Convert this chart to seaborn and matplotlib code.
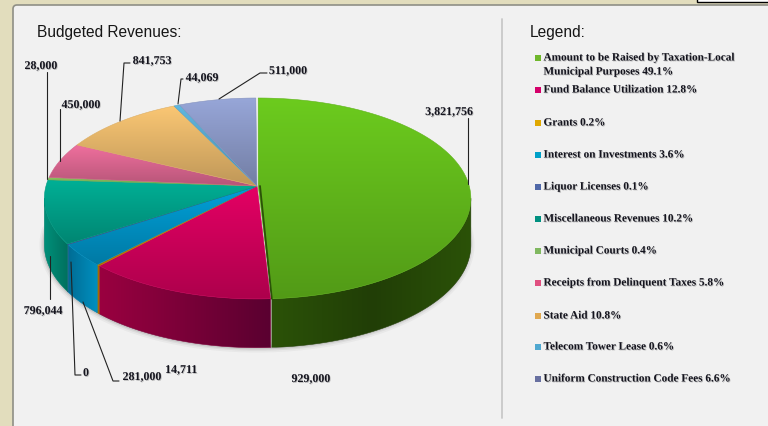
import numpy as np
import pandas as pd
import matplotlib
matplotlib.use("Agg")
import matplotlib.pyplot as plt
import matplotlib.patheffects as pe
from matplotlib.patches import FancyBboxPatch, Polygon, Rectangle
import seaborn as sns

# values
categories = [
    "Amount to be Raised by Taxation-Local\nMunicipal Purposes 49.1%",
    "Fund Balance Utilization 12.8%",
    "Grants 0.2%",
    "Interest on Investments 3.6%",
    "Liquor Licenses 0.1%",
    "Miscellaneous Revenues 10.2%",
    "Municipal Courts 0.4%",
    "Receipts from Delinquent Taxes 5.8%",
    "State Aid 10.8%",
    "Telecom Tower Lease 0.6%",
    "Uniform Construction Code Fees 6.6%",
]
shares = [49.1, 12.8, 0.2, 3.6, 0.1, 10.2, 0.4, 5.8, 10.6, 0.5, 6.6]
amounts = ["3,821,756", "929,000", "14,711", "281,000", "0", "796,044",
           "28,000", "450,000", "841,753", "44,069", "511,000"]
top_colors = ["#6ccb1e", "#e40064", "#d89000", "#00a0d8", "#4060a0", "#00b096",
              "#8cc860", "#f0709e", "#fbc774", "#60b8e0", "#97a6d8"]
wall_colors = [("#2b5208", "#213e06"), ("#9a0040", "#5a0030"), ("#b87800", "#a06800"),
               ("#006c94", "#0090c0"), ("#304880", "#304880"), ("#00907a", "#00705e")]
swatch_colors = ["#6fb72b", "#d4006a", "#e0a800", "#00a0c8", "#5068a8", "#009080",
                 "#80b860", "#e05080", "#e0a850", "#50a8d0", "#6870a0"]

# layout, in pixels of the 768x427 picture
legend_rows = [59, 91, 124, 156, 188, 220, 252, 284, 317, 348, 380]
label_pos = [(449, 113), (311, 380), (181, 371), (142, 378), (86, 374), (43, 312),
             (41, 67), (81, 106), (152, 62), (202, 79), (288, 72)]
leaders = [
    [(468, 185), (468, 119)], None, None,
    [(83, 303), (113, 382), (119, 382)],
    [(71, 263), (75, 376), (81, 376)],
    [(50, 257), (50, 300)],
    [(47, 180), (47, 73)],
    [(60, 162), (60, 110)],
    [(120, 122), (124, 64), (130, 64)],
    [(178, 105), (181, 80), (183, 80)],
    [(219, 100), (260, 74), (267, 74)],
]
CX, CY, RX, RY, PERSP = 257.0, 187.0, 211.0, 98.9, 0.124
NUDGE = 1.2

sns.set_style("white")
plt.rcParams["font.family"] = ["Liberation Serif", "DejaVu Serif"]


def project(theta, drop=0.0, dx=0.0):
    """clockwise degrees from 12 o'clock -> pixel position on the tilted disc"""
    t = np.radians(theta)
    u, v = np.sin(t), np.cos(t)
    w = 1 + PERSP * v
    return CX + dx + RX * u / w, CY - RY * v / w + drop * (1 - 0.06 * v)


def gradient_fill(ax, pts, cmap, horizontal=False, z=3):
    pts = np.asarray(pts)
    x0, x1 = pts[:, 0].min(), pts[:, 0].max()
    y0, y1 = pts[:, 1].min(), pts[:, 1].max()
    ramp = np.linspace(0, 1, 128)
    ramp = ramp[None, :] if horizontal else ramp[:, None]
    im = ax.imshow(ramp, cmap=cmap, extent=(x0, x1, y1, y0), origin="upper",
                   aspect="auto", zorder=z, vmin=0, vmax=1)
    patch = Polygon(pts, closed=True, transform=ax.transData)
    im.set_clip_path(patch)
    ax.add_patch(Polygon(pts, closed=True, fc="none", ec=cmap(0.5), lw=0.4, zorder=z))


def soft_text(ax, x, y, s, **kw):
    t = ax.text(x, y, s, color="#14141e", fontweight="bold", **kw)
    t.set_path_effects([pe.withSimplePatchShadow(offset=(0.6, -0.6), shadow_rgbFace="#555555", alpha=0.35)])
    return t


fig = plt.figure(figsize=(7.68, 4.27), dpi=100)
fig.patch.set_facecolor("#e2ddbd")
ax = fig.add_axes([0, 0, 1, 1])
ax.set_facecolor("none")

# page panel behind the chart
ax.add_patch(FancyBboxPatch((13, 6), 800, 480, boxstyle="round,pad=0,rounding_size=4",
                            fc="#f1f1f1", ec="#8f8f86", lw=1.2, zorder=0))
ax.add_patch(Rectangle((697, -5), 90, 8, fc="white", ec="black", lw=1, zorder=1))
ax.plot([502, 502], [20, 419], color="#c9c9c9", lw=1.3, zorder=1)

edges = np.concatenate([[0], np.cumsum(shares)]) * 3.6
WALL_FROM, WALL_TO = 97, 263

# soft shadow under the disc
arc = np.linspace(WALL_FROM - 8, WALL_TO + 8, 200)
sx, sy = project(arc, drop=46)
for lw, a in [(7, 0.05), (4.5, 0.08), (2.5, 0.12)]:
    ax.plot(sx, sy, color="#444444", lw=lw, alpha=a, zorder=1.5, solid_capstyle="round")

# side walls
for i, pair in enumerate(wall_colors):
    a0, a1 = max(edges[i], WALL_FROM), min(edges[i + 1], WALL_TO)
    if a1 <= a0:
        continue
    th = np.linspace(a0, a1, 120)
    dx = NUDGE if i == 0 else 0
    x0, y0 = project(th, dx=dx)
    x1, y1 = project(th, drop=46, dx=dx)
    pts = np.vstack([np.c_[x0, y0], np.c_[x1, y1][::-1]])
    if i == 0:
        cmap = sns.blend_palette([pair[0], pair[1], pair[0]], as_cmap=True)
    else:
        cmap = sns.blend_palette(list(pair), as_cmap=True)
    gradient_fill(ax, pts, cmap, horizontal=True, z=2)

# top faces, green slice pulled slightly away
for i, col in enumerate(top_colors):
    th = np.linspace(edges[i], edges[i + 1], max(int(shares[i] * 8), 6))
    dx = NUDGE if i == 0 else 0
    x, y = project(th, dx=dx)
    pts = np.vstack([[CX + dx, CY], np.c_[x, y]])
    dark = tuple(c * 0.76 for c in matplotlib.colors.to_rgb(col))
    cmap = sns.blend_palette([col, dark], as_cmap=True)
    gradient_fill(ax, pts, cmap, z=3 + i * 0.01)

# dark cut face along the end of the green slice
ex, ey = project(edges[1], dx=NUDGE)
ax.plot([CX + 3, ex], [CY, ey], color="#2b5208", lw=1.3, zorder=3.5)

# leader lines
for line in leaders:
    if line is not None:
        ax.plot(*zip(*line), color="#222222", lw=0.8, zorder=4)

# amounts
for (x, y), s in zip(label_pos, amounts):
    soft_text(ax, x, y, s, fontsize=8.6, ha="center", va="center", zorder=5)

# titles
ax.text(37, 32, "Budgeted Revenues:", fontsize=11.2, family="Liberation Sans",
        color="#161616", va="center", zorder=5)
ax.text(530, 32, "Legend:", fontsize=11.2, family="Liberation Sans",
        color="#161616", va="center", zorder=5)

# legend swatches and entries
legend_df = pd.DataFrame({"x": 538, "y": legend_rows, "cat": categories})
sns.scatterplot(data=legend_df, x="x", y="y", hue="cat", palette=swatch_colors, marker="s",
                s=24, linewidth=0, legend=False, ax=ax, zorder=5)
for y, s in zip(legend_rows, categories):
    if "\n" in s:
        for k, part in enumerate(s.split("\n")):
            soft_text(ax, 543.5, y + k * 14, part, fontsize=8.1, va="center", zorder=5)
    else:
        soft_text(ax, 543.5, y, s, fontsize=8.1, va="center", zorder=5)

ax.set_xlim(0, 768)
ax.set_ylim(427, 0)
ax.set_xlabel("")
ax.set_ylabel("")
ax.axis("off")
fig.savefig("out.png", dpi=100, facecolor=fig.get_facecolor())
plt.close(fig)
